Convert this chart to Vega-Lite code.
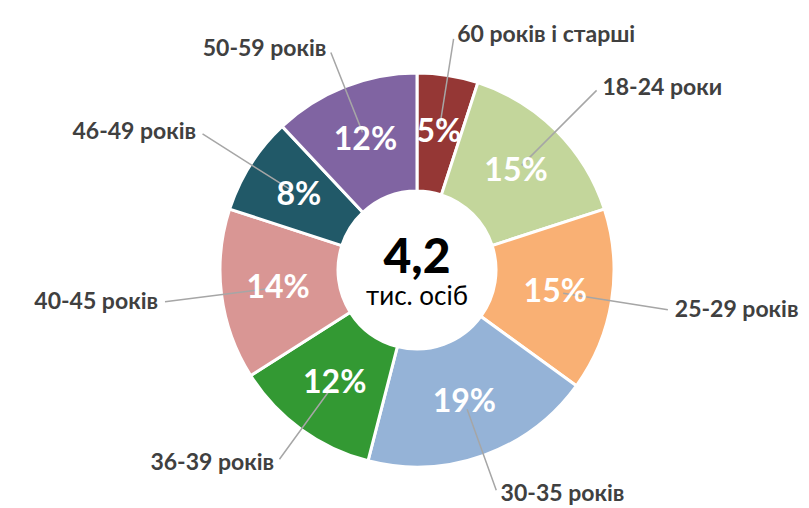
{
  "$schema": "https://vega.github.io/schema/vega-lite/v6.json",
  "width": 809,
  "height": 508,
  "autosize": {"type": "fit", "contains": "padding"},
  "padding": {"left": 25, "top": 32, "right": 0, "bottom": 0},
  "background": "white",
  "config": {"view": {"stroke": null}, "font": "Lato"},
  "data": {
    "values": [
      {"group": "60 років і старші", "share": 5},
      {"group": "18-24 роки", "share": 15},
      {"group": "25-29 років", "share": 15},
      {"group": "30-35 років", "share": 19},
      {"group": "36-39 років", "share": 12},
      {"group": "40-45 років", "share": 14},
      {"group": "46-49 років", "share": 8},
      {"group": "50-59 років", "share": 12}
    ]
  },
  "transform": [
    {"window": [{"op": "sum", "field": "share", "as": "cumEnd"}], "frame": [null, 0]},
    {"calculate": "datum.cumEnd - datum.share", "as": "cumStart"},
    {"calculate": "datum.cumEnd - datum.share / 2", "as": "mid"},
    {"calculate": "datum.share + '%'", "as": "pct"},
    {"calculate": "abs(sin(datum.mid / 100 * 2 * PI)) > 0.7", "as": "lateral"}
  ],
  "layer": [
    {
      "mark": {"type": "arc", "innerRadius": 79, "outerRadius": 197, "stroke": "white", "strokeWidth": 3},
      "encoding": {
        "theta": {"field": "cumStart", "type": "quantitative", "scale": {"domain": [0, 100], "range": [0, 6.283185307179586]}},
        "theta2": {"field": "cumEnd"},
        "color": {
          "field": "group",
          "type": "nominal",
          "legend": null,
          "scale": {
            "domain": ["60 років і старші", "18-24 роки", "25-29 років", "30-35 років", "36-39 років", "40-45 років", "46-49 років", "50-59 років"],
            "range": ["#953735", "#C3D69B", "#F9B074", "#95B3D7", "#339933", "#D99694", "#215968", "#8064A2"]
          }
        }
      }
    },
    {
      "transform": [{"filter": "!datum.lateral"}],
      "mark": {"type": "arc", "innerRadius": 148, "outerRadius": 234, "fill": null, "stroke": "#A6A6A6", "strokeWidth": 1.5},
      "encoding": {
        "theta": {"field": "mid", "type": "quantitative"},
        "theta2": {"field": "mid"}
      }
    },
    {
      "transform": [{"filter": "datum.lateral"}],
      "mark": {"type": "arc", "innerRadius": 148, "outerRadius": 254, "fill": null, "stroke": "#A6A6A6", "strokeWidth": 1.5},
      "encoding": {
        "theta": {"field": "mid", "type": "quantitative"},
        "theta2": {"field": "mid"}
      }
    },
    {
      "mark": {"type": "text", "radius": 140, "fontSize": 32, "fontWeight": "bold", "fill": "white", "baseline": "middle"},
      "encoding": {
        "theta": {"field": "mid", "type": "quantitative"},
        "text": {"field": "pct"}
      }
    },
    {
      "transform": [{"filter": "datum.mid < 50 && !datum.lateral"}],
      "mark": {"type": "text", "radius": 238, "align": "left", "dx": 3, "fontSize": 23, "fontWeight": "bold", "fill": "#404040", "baseline": "middle"},
      "encoding": {
        "theta": {"field": "mid", "type": "quantitative"},
        "text": {"field": "group"}
      }
    },
    {
      "transform": [{"filter": "datum.mid >= 50 && !datum.lateral"}],
      "mark": {"type": "text", "radius": 238, "align": "right", "dx": -3, "fontSize": 23, "fontWeight": "bold", "fill": "#404040", "baseline": "middle"},
      "encoding": {
        "theta": {"field": "mid", "type": "quantitative"},
        "text": {"field": "group"}
      }
    },
    {
      "transform": [{"filter": "datum.mid < 50 && datum.lateral"}],
      "mark": {"type": "text", "radius": 258, "align": "left", "dx": 3, "fontSize": 23, "fontWeight": "bold", "fill": "#404040", "baseline": "middle"},
      "encoding": {
        "theta": {"field": "mid", "type": "quantitative"},
        "text": {"field": "group"}
      }
    },
    {
      "transform": [{"filter": "datum.mid >= 50 && datum.lateral"}],
      "mark": {"type": "text", "radius": 258, "align": "right", "dx": -3, "fontSize": 23, "fontWeight": "bold", "fill": "#404040", "baseline": "middle"},
      "encoding": {
        "theta": {"field": "mid", "type": "quantitative"},
        "text": {"field": "group"}
      }
    },
    {
      "data": {"values": [{"total": "4,2", "unit": "тис. осіб"}]},
      "layer": [
        {
          "mark": {"type": "text", "fontSize": 48, "fontWeight": 900, "fill": "black", "baseline": "alphabetic", "dy": 3},
          "encoding": {"text": {"field": "total"}}
        },
        {
          "mark": {"type": "text", "fontSize": 26, "fill": "black", "baseline": "alphabetic", "dy": 35},
          "encoding": {"text": {"field": "unit"}}
        }
      ]
    }
  ]
}
